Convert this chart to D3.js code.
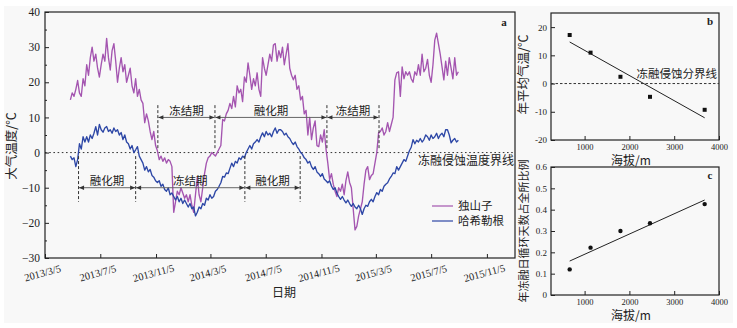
<!DOCTYPE html>
<html>
<head>
<meta charset="utf-8">
<script src="https://cdn.jsdelivr.net/npm/d3@7"></script>
<style>
  body { margin: 0; background: #fff; }
  svg { display: block; }
  text { font-family: "Liberation Serif", "Noto Sans CJK SC", serif; fill: #222; }
  .cjk { font-family: "Noto Sans CJK SC", sans-serif; }
</style>
</head>
<body>
<svg id="fig" width="737" height="328"></svg>
<script>
// ---- daily air temperature, sampled every 4 days from the first date ----
const seriesStart = "2013-04-30";
const stepDays = 4;

const dushanzi = [
  15, 17, 16, 18, 20.5, 17, 16, 21, 19, 25, 22, 27, 30, 26, 28, 24, 21.5, 25, 28, 26,
  32.5, 27, 23.5, 29, 31, 26, 20, 24, 27, 23, 25, 20, 22, 24, 19, 17, 21, 16, 18, 15,
  14, 8.5, 11, 9, 6, 3.7, 6, 2, 0.5, -2, -1, -2.5, -1.5, -3, -2, -2.5, -4, -17, -14, -11,
  -12, -10, -11.5, -13, -12, -14, -12, -15, -17, -12, -7, -12, -14, -10, -6, -3, -1.5, -1, 0, -0.5,
  -1, 0, 1, 2, 9.4, 9, 11, 12, 14, 12.5, 16, 13, 19, 17, 18, 14.5, 21.5, 20, 25.5, 22,
  18, 21, 19, 22.7, 18, 16, 27, 24, 22, 25, 28, 26, 30.6, 31, 26, 29, 27, 30, 25, 28,
  31, 24, 22, 20.7, 22, 18, 19, 15, 16, 11, 12, 5, 10, 3.7, 7, 9, 2, 1.7, 5, 3,
  6.5, 1, -3, -7.7, -6, -9, -11, -12.5, -10, -11, -9, -12, -8, -5.5, -8.5, -10, -16, -22, -21, -18,
  -16, -14, -9, -5, -4, -7.7, -6.5, -6, -3, 0, 5.6, 6, 7, 5, 6, 8.5, 6, 8, 10, 20.7,
  22.7, 23, 16, 24.4, 21, 23, 22, 23, 21, 20, 23, 22, 25, 22, 28, 23, 24, 26.5, 22, 20,
  25, 32, 34, 31, 28, 24.4, 20.7, 26, 22, 27, 24, 21, 27, 22, 23
];

const haxilegen = [
  -1, -2, -1.5, -4, -2, 2.5, 1, 4.5, 3, 4.5, 3, 5, 4, 5.5, 7.4, 5, 8, 6.5, 5.8, 7,
  7.4, 6, 6.5, 5.5, 7, 6, 6.5, 5, 5.7, 3.7, 5, 3, 2.5, 1, 2, 0, 0.8, 1.7, -1, -2,
  -3, -5, -4, -5.5, -4.8, -6.5, -7, -8, -8.5, -8, -9.6, -9, -10.5, -11, -10, -12, -11.5, -12.5, -13.5, -12.5,
  -14, -13, -14.5, -13.5, -14.5, -15.5, -14.5, -16, -15.5, -18, -17, -15.5, -16, -14.5, -15, -13, -13.5, -12, -13, -12.5,
  -11, -10.5, -9.6, -8.6, -6.8, -7, -5.8, -6, -4.5, -3, -4, -2.5, -3, -1.5, -2, -1, -1.5, 0, 1, 2,
  1, 2.5, 3, 3.7, 3, 4.5, 5.6, 4.5, 6, 5, 5.5, 4.5, 6, 7, 5.5, 6.5, 6.5, 6, 5, 5.5,
  4.5, 4, 3, 2.3, 3, 1.7, 1, 0, -0.5, -1.5, -2, -3, -2.5, -4, -4.8, -4, -5.5, -6, -6.8, -6,
  -7.5, -8, -8.6, -8, -9.5, -10.5, -10, -11.5, -12.5, -13.3, -12.5, -13.5, -14.3, -13.5, -14.5, -15.3, -14.5, -15.5, -16, -15,
  -16, -17.6, -16, -15, -15.3, -14, -13.3, -14, -12.5, -11.4, -12, -10.5, -11, -9.6, -9, -8.6, -7.5, -6.8, -5.8, -6,
  -4, -5, -4, -3, -2, -2.5, -1, 0.5, 1.5, 3.7, 2.5, 3.5, 3, 4, 3, 3.7, 5, 4.5, 3.5, 5,
  4, 4.5, 5.5, 4, 5, 5.5, 4.5, 6.5, 6.5, 5, 2.8, 3.5, 4, 3, 3.5
];

const stationNames = ["独山子", "哈希勒根"];
const dateTicks = ["2013/3/5", "2013/7/5", "2013/11/5", "2014/3/5", "2014/7/5",
                   "2014/11/5", "2015/3/5", "2015/7/5", "2015/11/5"];
const tempTicks = [40, 30, 20, 10, 0, -10, -20, -30];

// freeze / thaw periods marked above (独山子) and below (哈希勒根)
const upperPhaseBounds = ["2013-11-09", "2014-03-15", "2014-11-17", "2015-03-12"];
const upperPhaseLabels = ["冻结期", "融化期", "冻结期"];
const lowerPhaseBounds = ["2013-05-18", "2013-09-21", "2014-05-20", "2014-09-19"];
const lowerPhaseLabels = ["融化期", "冻结期", "融化期"];

// station summaries versus elevation
const elevation = [667, 1133, 1800, 2460, 3680];
const meanAnnualTemp = [17.2, 10.95, 2.4, -4.7, -9.3];
const freezeThawRatio = [0.12, 0.222, 0.30, 0.336, 0.426];
const elevTicks = [1000, 2000, 3000, 4000];
const meanTempTicks = [20, 10, 0, -10, -20];
const ratioTicks = [0, 0.1, 0.2, 0.3, 0.4, 0.5, 0.6];

// ---------------------------------------------------------------
const svg = d3.select("#fig");
const parse = d3.utcParse("%Y-%m-%d");
const parseTick = d3.utcParse("%Y/%-m/%-d");
const purple = "#a455b0";
const blue = "#2d47a6";

svg.append("rect").attr("x", 4).attr("y", 6).attr("width", 729).attr("height", 317)
  .attr("fill", "#f8f8f8");

const defs = svg.append("defs");
defs.append("marker").attr("id", "ah")
  .attr("viewBox", "0 0 6 6").attr("refX", 6).attr("refY", 3)
  .attr("markerWidth", 6).attr("markerHeight", 5).attr("markerUnits", "userSpaceOnUse")
  .attr("orient", "auto-start-reverse")
  .append("path").attr("d", "M0,0.4L6,3L0,5.6Z").attr("fill", "#333");

// ---------------- panel a ----------------
const A = { l: 45, r: 515, t: 12, b: 258 };
const x = d3.scaleUtc()
  .domain([parse("2013-03-05"), parse("2016-01-06")])
  .range([A.l, A.r]);
const y = d3.scaleLinear().domain([-30, 40]).range([A.b, A.t]);

const t0 = parse(seriesStart);
const dateAt = i => d3.utcDay.offset(t0, i * stepDays);
const line = d3.line().x((d, i) => x(dateAt(i))).y(d => y(d));

const gA = svg.append("g");

// zero-degree boundary
gA.append("line").attr("x1", A.l).attr("x2", A.r).attr("y1", y(0)).attr("y2", y(0))
  .attr("stroke", "#333").attr("stroke-width", 1).attr("stroke-dasharray", "1.6,2.6");
gA.append("text").attr("class", "cjk").attr("x", A.r - 1).attr("y", y(0) + 12)
  .attr("text-anchor", "end").attr("font-size", 12).text("冻融侵蚀温度界线");

// temperature curves
gA.append("path").datum(dushanzi).attr("d", line)
  .attr("fill", "none").attr("stroke", purple).attr("stroke-width", 1.35)
  .attr("stroke-linejoin", "round");
gA.append("path").datum(haxilegen).attr("d", line)
  .attr("fill", "none").attr("stroke", blue).attr("stroke-width", 1.35)
  .attr("stroke-linejoin", "round");

// period brackets
function phases(bounds, labels, level, dashTop, dashBottom) {
  const g = gA.append("g");
  bounds.forEach(b => {
    g.append("line").attr("x1", x(parse(b))).attr("x2", x(parse(b)))
      .attr("y1", y(dashTop)).attr("y2", y(dashBottom))
      .attr("stroke", "#333").attr("stroke-width", 1).attr("stroke-dasharray", "3,2");
  });
  labels.forEach((lab, i) => {
    const x1 = x(parse(bounds[i])), x2 = x(parse(bounds[i + 1]));
    g.append("line").attr("x1", x1 + 0.5).attr("x2", x2 - 0.5)
      .attr("y1", y(level)).attr("y2", y(level))
      .attr("stroke", "#666").attr("stroke-width", 1)
      .attr("marker-start", "url(#ah)").attr("marker-end", "url(#ah)");
    g.append("text").attr("class", "cjk").attr("x", (x1 + x2) / 2).attr("y", y(level) - 2.5)
      .attr("text-anchor", "middle").attr("font-size", 11.5).text(lab);
  });
}
phases(upperPhaseBounds, upperPhaseLabels, 10, 13.5, 1);
phases(lowerPhaseBounds, lowerPhaseLabels, -10, -1, -14);

// axes
const xAxis = gA.append("g").attr("transform", `translate(0,${A.b})`)
  .call(d3.axisBottom(x).tickValues(dateTicks.map(parseTick))
    .tickSizeInner(-4).tickSizeOuter(0)
    .tickFormat(d => `${d.getUTCFullYear()}/${d.getUTCMonth() + 1}/${d.getUTCDate()}`));
xAxis.select(".domain").remove();
xAxis.selectAll(".tick line").attr("stroke", "#222");
xAxis.selectAll(".tick text")
  .attr("y", 0).attr("dy", "0.35em")
  .attr("transform", "translate(-3,15) rotate(-15)")
  .attr("text-anchor", "middle").attr("font-size", 10.5).attr("fill", "#222");

const yAxis = gA.append("g").attr("transform", `translate(${A.l},0)`)
  .call(d3.axisLeft(y).tickValues(tempTicks).tickSizeInner(-4).tickSizeOuter(0).tickPadding(5)
    .tickFormat(d => d < 0 ? "\u2212" + Math.abs(d) : d));
yAxis.select(".domain").remove();
yAxis.selectAll(".tick line").attr("stroke", "#222");
yAxis.selectAll(".tick text").attr("font-size", 11.5).attr("fill", "#222");

const yMinor = gA.append("g").attr("transform", `translate(${A.l},0)`)
  .call(d3.axisLeft(y).tickValues(d3.range(-25, 40, 10)).tickSizeInner(-2).tickSizeOuter(0)
    .tickFormat(""));
yMinor.select(".domain").remove();
yMinor.selectAll(".tick line").attr("stroke", "#222");

gA.append("rect").attr("x", A.l).attr("y", A.t).attr("width", A.r - A.l).attr("height", A.b - A.t)
  .attr("fill", "none").attr("stroke", "#222").attr("stroke-width", 1.2);

gA.append("text").attr("x", 504).attr("y", 26).attr("text-anchor", "middle")
  .attr("font-size", 11).attr("font-weight", "bold").text("a");

gA.append("text").attr("class", "cjk").attr("transform", `translate(16,146) rotate(-90)`)
  .attr("text-anchor", "middle").attr("font-size", 12.5).text("大气温度/℃");
gA.append("text").attr("class", "cjk").attr("x", 284).attr("y", 297)
  .attr("text-anchor", "middle").attr("font-size", 12).text("日期");

// legend
const colors = [purple, blue];
stationNames.forEach((name, i) => {
  const ly = 206 + i * 15;
  gA.append("line").attr("x1", 432).attr("x2", 453).attr("y1", ly).attr("y2", ly)
    .attr("stroke", colors[i]).attr("stroke-width", 1.2);
  gA.append("text").attr("class", "cjk").attr("x", 458).attr("y", ly).attr("dy", "0.36em")
    .attr("font-size", 11.5).text(name);
});

// ---------------- panels b and c ----------------
function fit(xs, ys) {
  const mx = d3.mean(xs), my = d3.mean(ys);
  const sxy = d3.sum(xs, (v, i) => (v - mx) * (ys[i] - my));
  const sxx = d3.sum(xs, v => (v - mx) * (v - mx));
  const k = sxy / sxx;
  return v => my + k * (v - mx);
}

function scatterPanel(P, yDomain, yTicks, yFmt, values, marker, yTitle, tag) {
  const g = svg.append("g");
  const xs = d3.scaleLinear().domain([250, 4000]).range([P.l, P.r]);
  const ys = d3.scaleLinear().domain(yDomain).range([P.b, P.t]);

  const xa = g.append("g").attr("transform", `translate(0,${P.b})`)
    .call(d3.axisBottom(xs).tickValues(elevTicks).tickSizeInner(-4).tickSizeOuter(0).tickPadding(4)
      .tickFormat(d => String(d)));
  xa.select(".domain").remove();
  xa.selectAll(".tick line").attr("stroke", "#222");
  xa.selectAll(".tick text").attr("font-size", 8.5).attr("fill", "#222");

  const ya = g.append("g").attr("transform", `translate(${P.l},0)`)
    .call(d3.axisLeft(ys).tickValues(yTicks).tickSizeInner(-4).tickSizeOuter(0).tickPadding(4)
      .tickFormat(yFmt));
  ya.select(".domain").remove();
  ya.selectAll(".tick line").attr("stroke", "#222");
  ya.selectAll(".tick text").attr("font-size", 9).attr("fill", "#222");

  const f = fit(elevation, values);
  const e0 = d3.min(elevation), e1 = d3.max(elevation);
  g.append("line").attr("x1", xs(e0)).attr("x2", xs(e1)).attr("y1", ys(f(e0))).attr("y2", ys(f(e1)))
    .attr("stroke", "#222").attr("stroke-width", 1);

  values.forEach((v, i) => {
    if (marker === "square") {
      g.append("rect").attr("x", xs(elevation[i]) - 2).attr("y", ys(v) - 2)
        .attr("width", 4).attr("height", 4).attr("fill", "#111");
    } else {
      g.append("circle").attr("cx", xs(elevation[i])).attr("cy", ys(v)).attr("r", 2.2)
        .attr("fill", "#111");
    }
  });

  g.append("rect").attr("x", P.l).attr("y", P.t).attr("width", P.r - P.l).attr("height", P.b - P.t)
    .attr("fill", "none").attr("stroke", "#222").attr("stroke-width", 1.2);
  g.append("text").attr("x", P.r - 9).attr("y", P.t + 12).attr("text-anchor", "middle")
    .attr("font-size", 11).attr("font-weight", "bold").text(tag);
  g.append("text").attr("class", "cjk")
    .attr("transform", `translate(${P.l - 23},${(P.t + P.b) / 2 + P.titleShift}) rotate(-90)`)
    .attr("text-anchor", "middle").attr("font-size", P.titleSize).text(yTitle);
  g.append("text").attr("class", "cjk").attr("x", 631).attr("y", P.b + 25)
    .attr("text-anchor", "middle").attr("font-size", 12).text("海拔/m");
  return { g, xs, ys };
}

const B = { l: 551, r: 719, t: 13, b: 140, titleShift: -2, titleSize: 12.5 };
const pb = scatterPanel(B, [-20, 25], meanTempTicks, d => d, meanAnnualTemp, "square",
  "年平均气温/℃", "b");
pb.g.append("line").attr("x1", B.l).attr("x2", B.r).attr("y1", pb.ys(0)).attr("y2", pb.ys(0))
  .attr("stroke", "#333").attr("stroke-width", 1).attr("stroke-dasharray", "2.5,2");
pb.g.append("text").attr("class", "cjk").attr("x", B.r - 2).attr("y", pb.ys(0) - 6)
  .attr("text-anchor", "end").attr("font-size", 11.5).text("冻融侵蚀分界线");

const C = { l: 551, r: 719, t: 167, b: 295, titleShift: 0, titleSize: 11 };
scatterPanel(C, [0, 0.6], ratioTicks, d => d === 0 ? "0" : d3.format(".1f")(d), freezeThawRatio,
  "circle", "年冻融日循环天数占全所比例", "c");
</script>
</body>
</html>
